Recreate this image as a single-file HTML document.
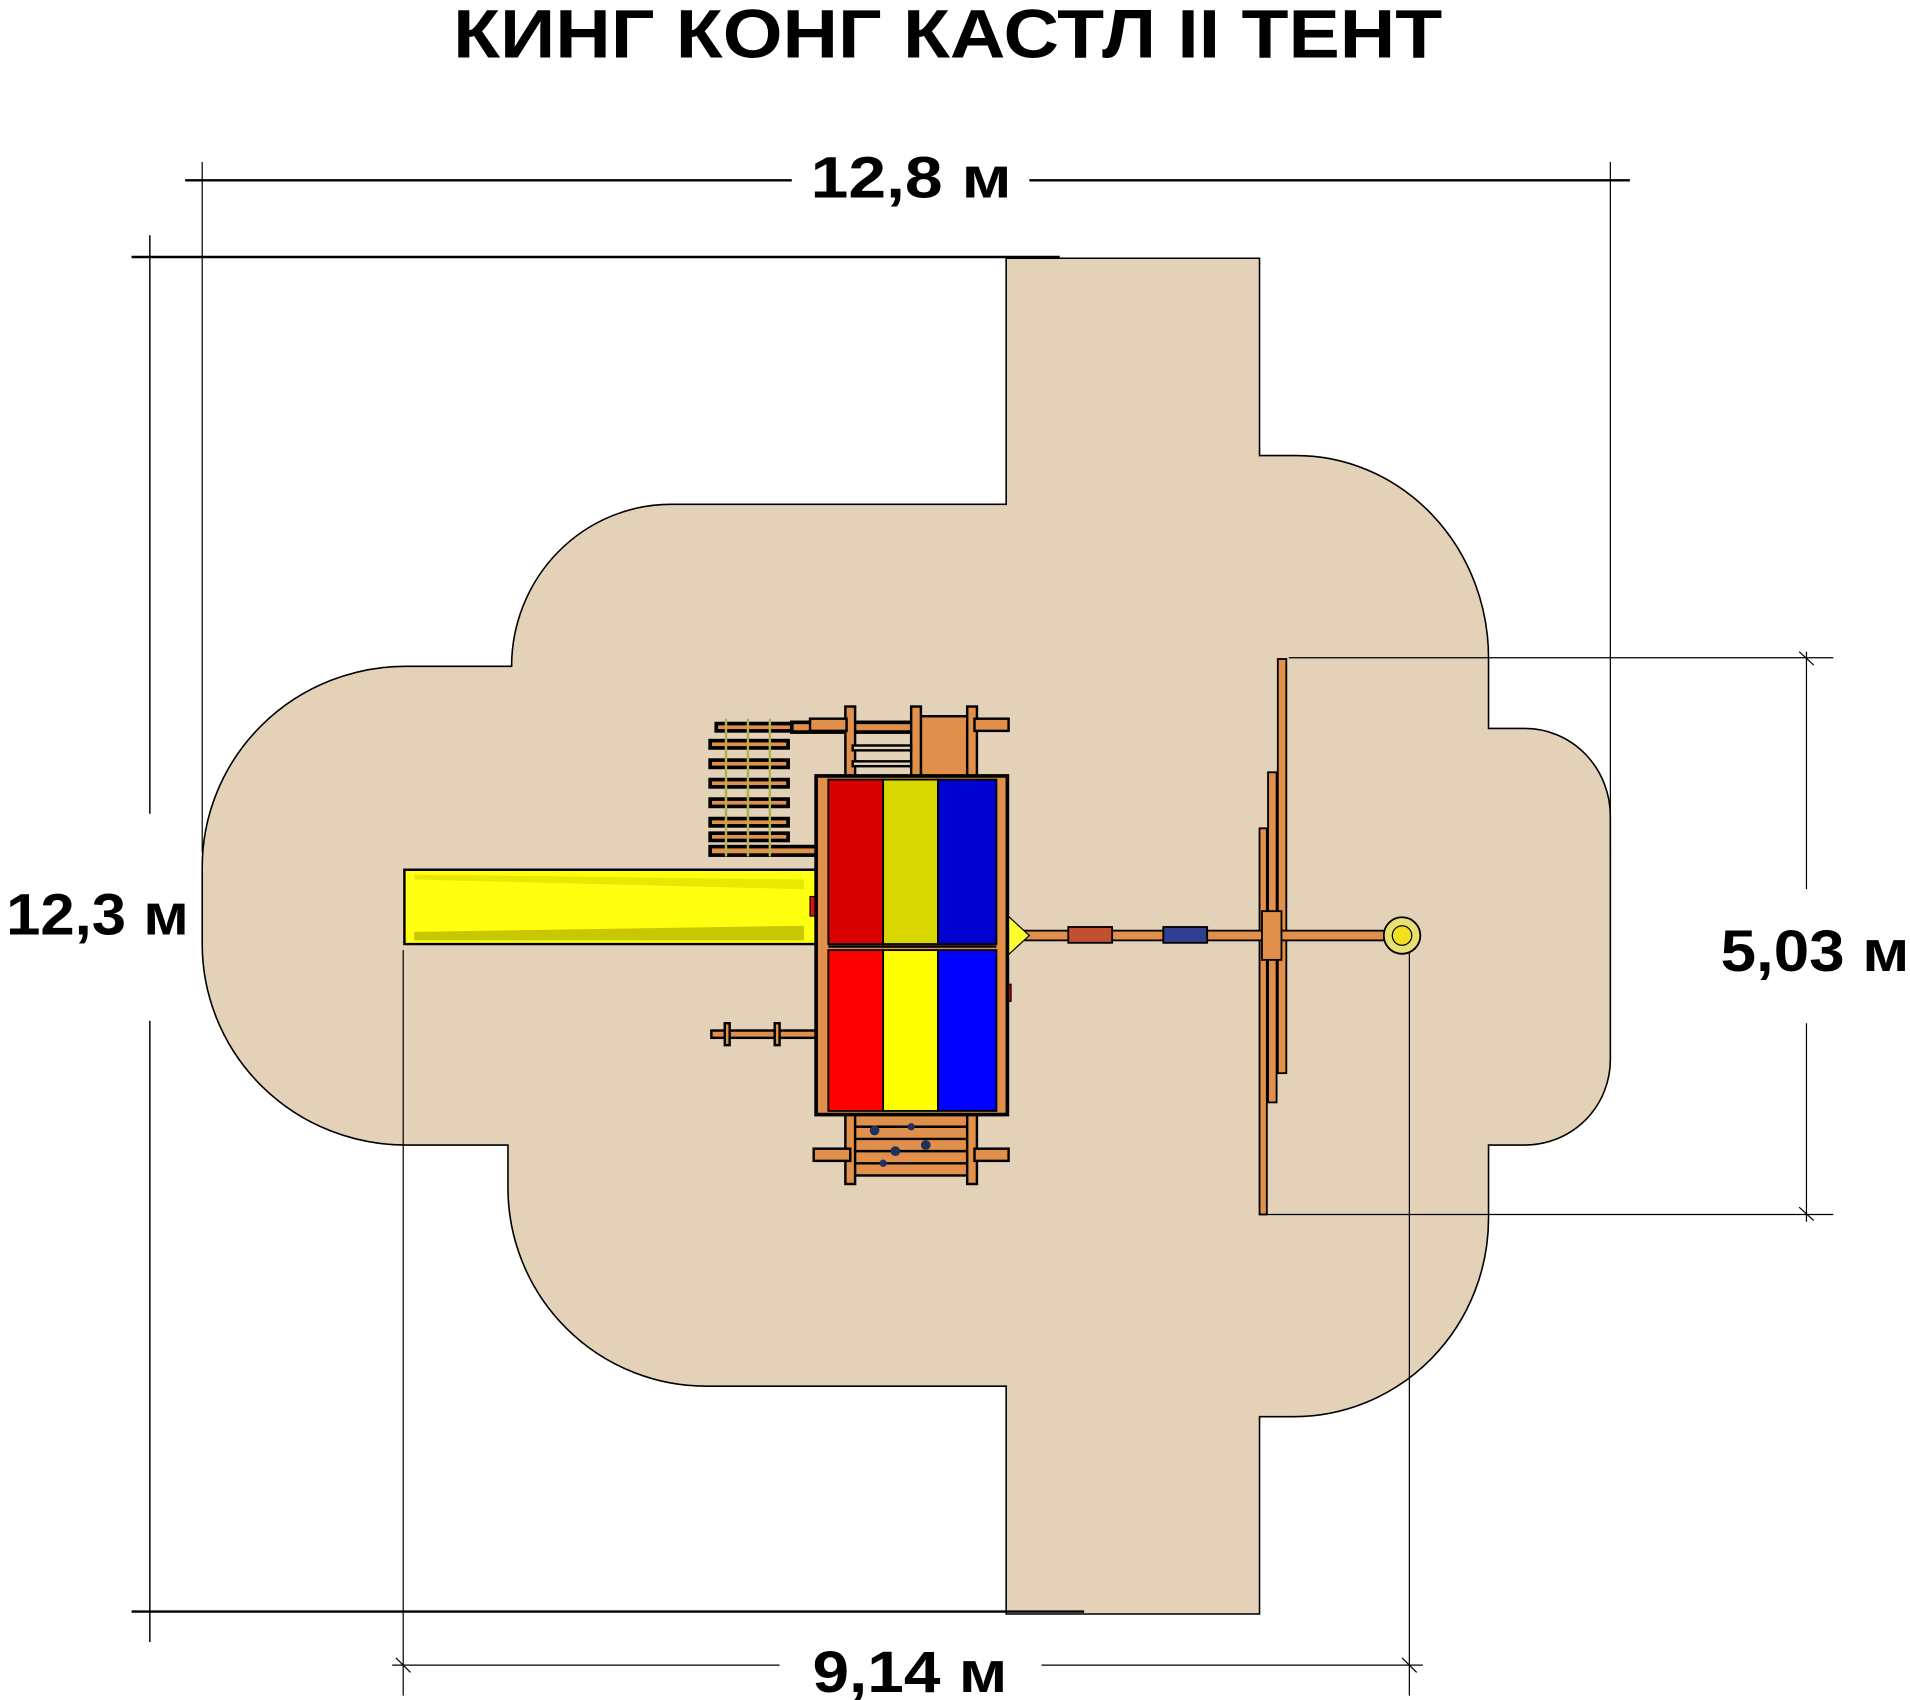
<!DOCTYPE html>
<html><head><meta charset="utf-8"><style>
html,body{margin:0;padding:0;background:#fff;}
svg{display:block;}
text{font-family:"Liberation Sans","DejaVu Sans",sans-serif;font-weight:bold;fill:#000;}
</style></head><body>
<svg width="1910" height="1700" viewBox="0 0 1568 1395.6" preserveAspectRatio="none" xmlns="http://www.w3.org/2000/svg">
<rect width="1568" height="1396" fill="#fff"/>
<text x="778" y="47" font-size="56" text-anchor="middle" textLength="812" lengthAdjust="spacingAndGlyphs">КИНГ КОНГ КАСТЛ II ТЕНТ</text>

<path d="M826,212 L1034,212 L1034,374 L1064,374 A158,166 0 0 1 1222,540 L1222,598 L1252,598 A70,72 0 0 1 1322,670 L1322,870 A70,70 0 0 1 1252,940 L1222,940 L1222,1000 A160,163 0 0 1 1062,1163 L1034,1163 L1034,1325 L826,1325 L826,1138 L580,1138 A163,163 0 0 1 417,975 L417,940 L333,940 A167,165 0 0 1 166,775 L166,712 A167,165 0 0 1 333,547 L420,547 A131,133 0 0 1 551,414 L826,414 Z" fill="#e4d2b8" stroke="#000" stroke-width="1.3"/>

<g stroke="#000" fill="none">
<line x1="152" y1="148" x2="650" y2="148" stroke-width="2"/>
<line x1="845" y1="148" x2="1338" y2="148" stroke-width="2"/>
<line x1="166" y1="133" x2="166" y2="700" stroke-width="1"/>
<line x1="1322" y1="133" x2="1322" y2="700" stroke-width="1"/>
<line x1="108" y1="211" x2="870" y2="211" stroke-width="2"/>
<line x1="123" y1="193" x2="123" y2="668" stroke-width="1.2"/>
<line x1="123" y1="838" x2="123" y2="1348" stroke-width="1.2"/>
<line x1="108" y1="1323" x2="890" y2="1323" stroke-width="2"/>
<line x1="331" y1="780" x2="331" y2="1392" stroke-width="1"/>
<line x1="1157" y1="780" x2="1157" y2="1392" stroke-width="1"/>
<line x1="322" y1="1367" x2="640" y2="1367" stroke-width="1"/>
<line x1="855" y1="1367" x2="1168" y2="1367" stroke-width="1"/>
<line x1="1058" y1="540" x2="1505" y2="540" stroke-width="1"/>
<line x1="1035" y1="997" x2="1505" y2="997" stroke-width="1"/>
<line x1="1483" y1="535" x2="1483" y2="730" stroke-width="1"/>
<line x1="1483" y1="840" x2="1483" y2="1003" stroke-width="1"/>
<line x1="1477" y1="535" x2="1489" y2="546" stroke-width="1"/>
<line x1="1477" y1="991" x2="1489" y2="1002" stroke-width="1"/>
<line x1="325" y1="1361" x2="337" y2="1373" stroke-width="1"/>
<line x1="1151" y1="1361" x2="1163" y2="1373" stroke-width="1"/>
</g>
<text x="748" y="162" font-size="48" text-anchor="middle" textLength="165" lengthAdjust="spacingAndGlyphs">12,8 м</text>
<text x="80" y="767" font-size="48" text-anchor="middle" textLength="150" lengthAdjust="spacingAndGlyphs">12,3 м</text>
<text x="1490" y="797" font-size="48" text-anchor="middle" textLength="155" lengthAdjust="spacingAndGlyphs">5,03 м</text>
<text x="747" y="1389" font-size="48" text-anchor="middle" textLength="160" lengthAdjust="spacingAndGlyphs">9,14 м</text>

<g stroke="#000" stroke-width="1.5" fill="#e0904a">
<rect x="1049" y="541" width="7" height="340"/>
<rect x="1041" y="634" width="7" height="271"/>
<rect x="1034" y="680" width="6" height="317"/>
<rect x="820" y="764" width="330" height="8"/>
<rect x="877" y="761" width="36" height="13" fill="#c05030"/>
<rect x="955" y="761" width="36" height="13" fill="#304090"/>
<rect x="1036" y="748" width="16" height="40"/>
</g>
<circle cx="1151" cy="768" r="15" fill="#e8e070" stroke="#000" stroke-width="1.5"/>
<circle cx="1151" cy="768" r="8" fill="#f0e020" stroke="#000" stroke-width="1"/>
<polygon points="820,745 845,768 820,791" fill="#ffff30" stroke="#000" stroke-width="1"/>

<g stroke="#000" stroke-width="3" fill="#e0904a">
<rect x="588" y="594" width="76" height="6"/>
<rect x="583" y="608" width="64" height="6"/>
<rect x="583" y="624" width="64" height="6"/>
<rect x="583" y="640" width="64" height="6"/>
<rect x="583" y="656" width="64" height="6"/>
<rect x="583" y="672" width="64" height="6"/>
<rect x="583" y="684" width="64" height="6"/>
<rect x="583" y="695" width="90" height="7"/>
<rect x="650" y="593" width="120" height="8"/>
</g>
<g stroke="#b0b050" stroke-width="2">
<line x1="596" y1="590" x2="596" y2="703"/><line x1="614" y1="590" x2="614" y2="703"/><line x1="632" y1="590" x2="632" y2="703"/>
</g>
<g stroke="#000" stroke-width="2" fill="#e0904a">
<rect x="756" y="588" width="40" height="50"/>
<rect x="694" y="580" width="8" height="60"/>
<rect x="748" y="580" width="8" height="60"/>
<rect x="794" y="580" width="8" height="60"/>
<rect x="700" y="612" width="48" height="4" fill="#e4d2b8"/>
<rect x="700" y="625" width="48" height="4" fill="#e4d2b8"/>
<rect x="800" y="590" width="28" height="10"/>
<rect x="665" y="590" width="30" height="10"/>
</g>
<g stroke="#000" stroke-width="2" fill="#e0904a">
<rect x="700" y="915" width="100" height="50"/>
<line x1="700" y1="925" x2="800" y2="925"/><line x1="700" y1="935" x2="800" y2="935"/><line x1="700" y1="945" x2="800" y2="945"/><line x1="700" y1="955" x2="800" y2="955"/>
<rect x="694" y="912" width="8" height="60"/>
<rect x="794" y="912" width="8" height="60"/>
<rect x="668" y="943" width="30" height="10"/>
<rect x="800" y="943" width="28" height="10"/>
</g>
<g fill="#203060"><circle cx="718" cy="928" r="4"/><circle cx="735" cy="945" r="4"/><circle cx="760" cy="940" r="4"/><circle cx="748" cy="925" r="3"/><circle cx="725" cy="955" r="3"/></g>
<g stroke="#000" stroke-width="2" fill="#e0904a">
<rect x="584" y="846" width="88" height="6"/>
<rect x="595" y="840" width="4" height="18"/>
<rect x="636" y="840" width="4" height="18"/>
</g>

<path d="M332,714 L670,714 L670,775 L332,775 Z" fill="#ffff10" stroke="#000" stroke-width="2"/>
<path d="M340,718 L660,722 L660,730 L340,722 Z" fill="#e8e800" stroke="none"/>
<path d="M340,765 L660,760 L660,772 L340,772 Z" fill="#c8c800" stroke="none"/>
<rect x="665" y="736" width="12" height="16" fill="#e01010" stroke="#000" stroke-width="1"/>
<rect x="818" y="808" width="12" height="14" fill="#e01010" stroke="#000" stroke-width="1"/>

<rect x="670" y="637" width="157" height="278" fill="#e0904a" stroke="#000" stroke-width="3"/>
<rect x="680" y="640" width="45" height="135" fill="#d80000" stroke="#000" stroke-width="1.5"/>
<rect x="725" y="640" width="45" height="135" fill="#d8d800" stroke="#000" stroke-width="1.5"/>
<rect x="770" y="640" width="48" height="135" fill="#0000d0" stroke="#000" stroke-width="1.5"/>
<rect x="680" y="780" width="45" height="132" fill="#ff0000" stroke="#000" stroke-width="1.5"/>
<rect x="725" y="780" width="45" height="132" fill="#ffff00" stroke="#000" stroke-width="1.5"/>
<rect x="770" y="780" width="48" height="132" fill="#0000ff" stroke="#000" stroke-width="1.5"/>
<line x1="680" y1="777" x2="818" y2="777" stroke="#000" stroke-width="2"/>
</svg>
</body></html>
